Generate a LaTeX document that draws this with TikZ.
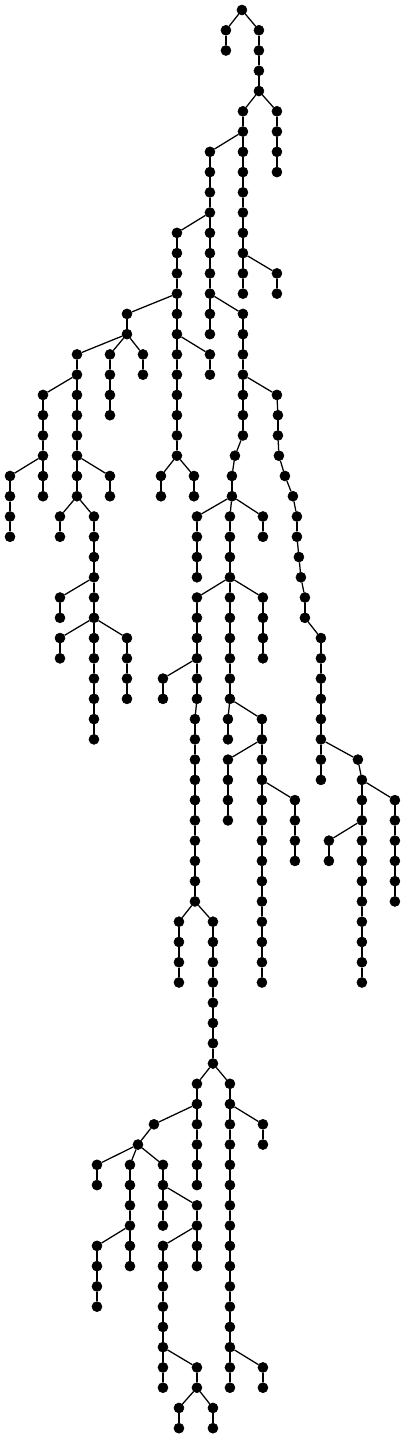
\documentclass[tikz,border=0pt]{standalone}
\usepackage{tikz}
% a vertical run of vertices in one column: x, first level, last level
\newcommand\vchain[3]{%
  \foreach \lv in {#2,...,#3}{\node[vtx] (v#1-\lv) at (#1,\lv) {};}
  \foreach \lv [remember=\lv as \pv (initially #2)] in {#2,...,#3}{%
    \ifnum\lv>#2 \draw[edge] (v#1-\pv) -- (v#1-\lv);\fi}%
}

\begin{document}
\begin{tikzpicture}[x=0.025cm,y=-0.5065cm]
\tikzstyle{vtx}=[circle, fill=black, draw=black, inner sep=0pt, minimum size=0.25cm]
\tikzstyle{edge}=[line width=0.9pt]
\useasboundingbox (0,-0.4936) rectangle (406,70.533);

% root and top part
\vchain{242}{0}{0}
\vchain{226}{1}{2}
\vchain{259}{1}{4}
\draw[edge] (v242-0) -- (v226-1);
\draw[edge] (v242-0) -- (v259-1);
\vchain{243}{5}{14}
\vchain{277}{5}{8}
\draw[edge] (v259-4) -- (v243-5);
\draw[edge] (v259-4) -- (v277-5);
\vchain{210}{7}{16}
\draw[edge] (v243-6) -- (v210-7);
\vchain{177}{11}{22}
\draw[edge] (v210-10) -- (v177-11);
\vchain{277}{13}{14}
\draw[edge] (v243-12) -- (v277-13);

% left branch from column 127
\vchain{127}{15}{16}
\draw[edge] (v177-14) -- (v127-15);
\vchain{77}{17}{24}
\vchain{110}{17}{20}
\vchain{143}{17}{18}
\draw[edge] (v127-16) -- (v77-17);
\draw[edge] (v127-16) -- (v110-17);
\draw[edge] (v127-16) -- (v143-17);
\vchain{43}{19}{24}
\draw[edge] (v77-18) -- (v43-19);
\vchain{10}{23}{26}
\draw[edge] (v43-22) -- (v10-23);
\vchain{110}{23}{24}
\draw[edge] (v77-22) -- (v110-23);
\vchain{60}{25}{26}
\vchain{94}{25}{36}
\draw[edge] (v77-24) -- (v60-25);
\draw[edge] (v77-24) -- (v94-25);
\vchain{60}{29}{30}
\draw[edge] (v94-28) -- (v60-29);
\vchain{60}{31}{32}
\vchain{127}{31}{34}
\draw[edge] (v94-30) -- (v60-31);
\draw[edge] (v94-30) -- (v127-31);

% middle branches
\vchain{210}{17}{18}
\draw[edge] (v177-16) -- (v210-17);
\vchain{161}{23}{24}
\vchain{194}{23}{24}
\draw[edge] (v177-22) -- (v161-23);
\draw[edge] (v177-22) -- (v194-23);
\vchain{243}{15}{21}
\draw[edge] (v210-14) -- (v243-15);
\vchain{235}{22}{22}
\draw[edge] (v243-21) -- (v235-22);
\vchain{232}{23}{24}
\draw[edge] (v235-22) -- (v232-23);
\vchain{197}{25}{28}
\vchain{230}{25}{34}
\vchain{263}{25}{26}
\draw[edge] (v232-24) -- (v197-25);
\draw[edge] (v232-24) -- (v230-25);
\draw[edge] (v232-24) -- (v263-25);
\vchain{197}{29}{34}
\vchain{263}{29}{32}
\draw[edge] (v230-28) -- (v197-29);
\draw[edge] (v230-28) -- (v263-29);
\vchain{163}{33}{34}
\draw[edge] (v197-32) -- (v163-33);
\vchain{195}{35}{44}
\draw[edge] (v197-34) -- (v195-35);
\vchain{228}{35}{36}
\vchain{262}{35}{48}
\draw[edge] (v230-34) -- (v228-35);
\draw[edge] (v230-34) -- (v262-35);
\vchain{228}{37}{40}
\draw[edge] (v262-36) -- (v228-37);
\vchain{295}{39}{42}
\draw[edge] (v262-38) -- (v295-39);

% right slanted branch
\vchain{277}{19}{19}
\vchain{278}{20}{21}
\vchain{279}{22}{22}
\vchain{285}{23}{23}
\vchain{293}{24}{24}
\vchain{297}{25}{26}
\vchain{299}{27}{27}
\vchain{301}{28}{28}
\vchain{305}{29}{30}
\draw[edge] (v243-18) -- (v277-19);
\draw[edge] (v277-19) -- (v278-20);
\draw[edge] (v278-21) -- (v279-22);
\draw[edge] (v279-22) -- (v285-23);
\draw[edge] (v285-23) -- (v293-24);
\draw[edge] (v293-24) -- (v297-25);
\draw[edge] (v297-26) -- (v299-27);
\draw[edge] (v299-27) -- (v301-28);
\draw[edge] (v301-28) -- (v305-29);
\vchain{321}{31}{38}
\draw[edge] (v305-30) -- (v321-31);
\vchain{358}{37}{37}
\draw[edge] (v321-36) -- (v358-37);
\vchain{362}{38}{48}
\draw[edge] (v358-37) -- (v362-38);
\vchain{395}{39}{44}
\draw[edge] (v362-38) -- (v395-39);
\vchain{329}{41}{42}
\draw[edge] (v362-40) -- (v329-41);

% lower part
\vchain{179}{45}{48}
\vchain{213}{45}{52}
\draw[edge] (v195-44) -- (v179-45);
\draw[edge] (v195-44) -- (v213-45);
\vchain{197}{53}{58}
\vchain{230}{53}{68}
\draw[edge] (v213-52) -- (v197-53);
\draw[edge] (v213-52) -- (v230-53);
\vchain{154}{55}{55}
\vchain{263}{55}{56}
\draw[edge] (v197-54) -- (v154-55);
\draw[edge] (v230-54) -- (v263-55);
\vchain{138}{56}{56}
\draw[edge] (v154-55) -- (v138-56);
\vchain{97}{57}{58}
\vchain{130}{57}{62}
\vchain{163}{57}{60}
\draw[edge] (v138-56) -- (v97-57);
\draw[edge] (v138-56) -- (v130-57);
\draw[edge] (v138-56) -- (v163-57);
\vchain{197}{59}{62}
\draw[edge] (v163-58) -- (v197-59);
\vchain{97}{61}{64}
\draw[edge] (v130-60) -- (v97-61);
\vchain{163}{61}{68}
\draw[edge] (v197-60) -- (v163-61);
\vchain{197}{67}{68}
\vchain{263}{67}{68}
\draw[edge] (v163-66) -- (v197-67);
\draw[edge] (v230-66) -- (v263-67);
\vchain{179}{69}{70}
\vchain{213}{69}{70}
\draw[edge] (v197-68) -- (v179-69);
\draw[edge] (v197-68) -- (v213-69);

\end{tikzpicture}
\end{document}
